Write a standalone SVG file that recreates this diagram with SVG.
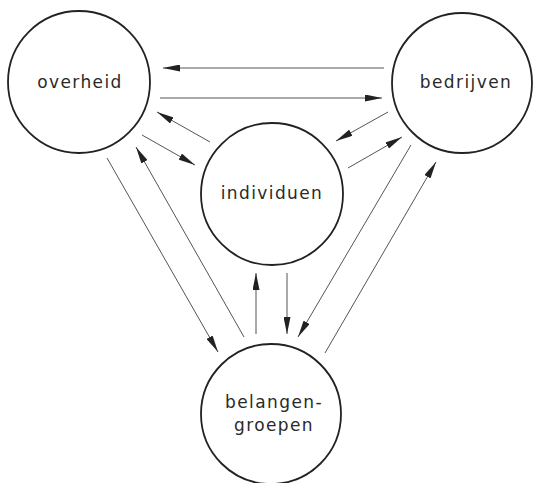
<svg xmlns="http://www.w3.org/2000/svg" width="533" height="483" viewBox="0 0 533 483">
<style>
.node circle{fill:#fff;stroke:#222;stroke-width:1.8}
.node text{font-family:"DejaVu Sans",sans-serif;font-size:17px;letter-spacing:1.4px;fill:#2a2a2a;text-anchor:middle}
#connectors line{stroke:#555;stroke-width:1;marker-end:url(#ah)}
</style>
<defs>
<marker id="ah" viewBox="0 0 17 7" refX="17" refY="3.5" markerWidth="17" markerHeight="7" markerUnits="userSpaceOnUse" orient="auto">
<path d="M0,0 L17,3.5 L0,7 Z" fill="#222"/>
</marker>
</defs>
<rect width="533" height="483" fill="#fff"/>
<g id="overheid" class="node"><circle cx="79" cy="82" r="71"/><text x="80" y="88">overheid</text></g>
<g id="bedrijven" class="node"><circle cx="462" cy="83" r="70"/><text x="466" y="88">bedrijven</text></g>
<g id="individuen" class="node"><circle cx="272" cy="194" r="71"/><text x="272" y="199">individuen</text></g>
<g id="belangengroepen" class="node"><circle cx="271" cy="414" r="70"/><text x="274" y="408">belangen-</text><text x="274" y="431">groepen</text></g>
<g id="connectors">
<line x1="384" y1="68" x2="163" y2="68"/>
<line x1="160" y1="98" x2="382" y2="98"/>
<line x1="210" y1="142" x2="157" y2="112"/>
<line x1="142" y1="135" x2="195" y2="165"/>
<line x1="107" y1="158" x2="218" y2="352"/>
<line x1="244" y1="337" x2="136" y2="147"/>
<line x1="388" y1="112" x2="336" y2="141"/>
<line x1="348" y1="168" x2="402" y2="137"/>
<line x1="411" y1="145" x2="298" y2="337"/>
<line x1="325" y1="353" x2="436" y2="162"/>
<line x1="256" y1="334" x2="256" y2="273"/>
<line x1="287" y1="273" x2="287" y2="334"/>
</g>
</svg>
